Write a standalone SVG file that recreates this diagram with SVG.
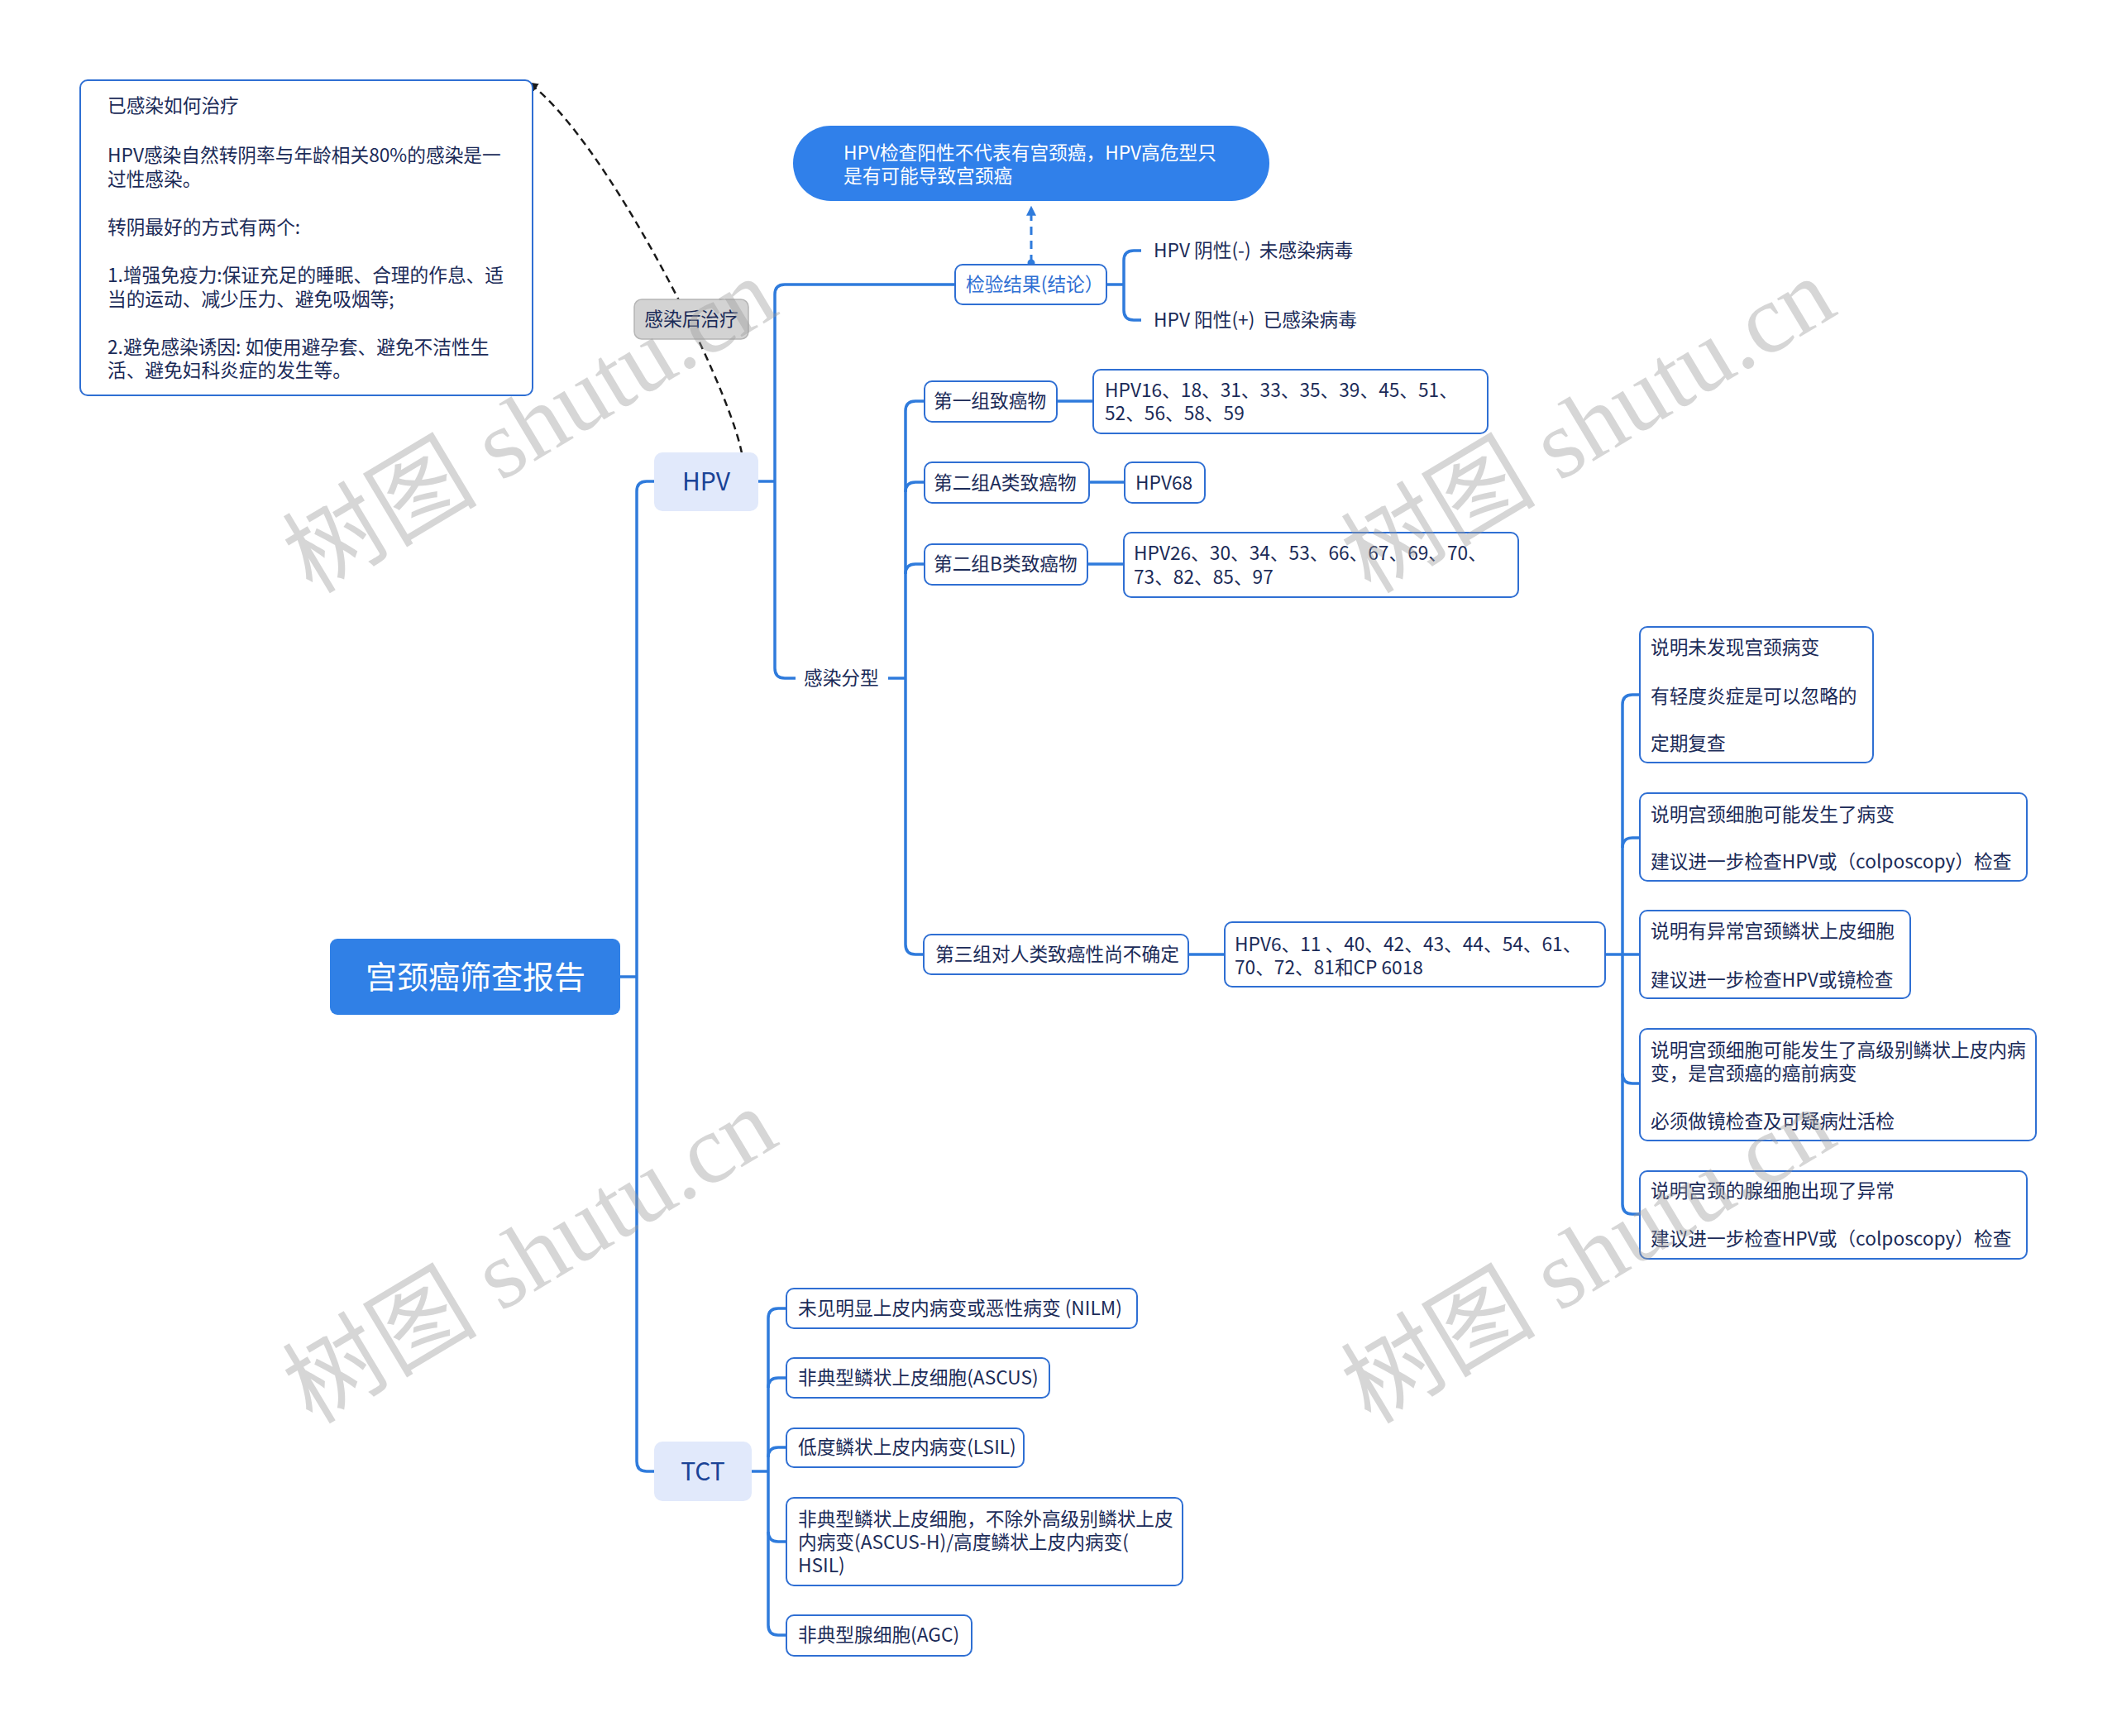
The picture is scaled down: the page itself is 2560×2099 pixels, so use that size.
<svg xmlns="http://www.w3.org/2000/svg" width="2560" height="2099" viewBox="0 0 2560 2099">
<style>
.t{font-family:"Noto Sans CJK SC","Noto Sans",sans-serif;font-size:22.7px;fill:#1b2b58}
.box{fill:#ffffff;stroke:#2f6fd3;stroke-width:2}
.c{fill:none;stroke:#2f7bdc;stroke-width:3.5}
.sub{fill:#e1e9fb}
.st{font-family:"Noto Sans CJK SC","Noto Sans",sans-serif;font-size:30px;fill:#1a4396;text-anchor:middle}
.wm{font-family:"Liberation Serif","Noto Sans CJK SC",serif;font-size:118px;fill:#9a9a9a;opacity:0.4;text-anchor:middle;dominant-baseline:central}
.pre{white-space:pre}
</style>
<defs>
<marker id="ab" viewBox="0 0 10 10" refX="9" refY="5" markerWidth="5" markerHeight="5" orient="auto"><path d="M0,0 L10,5 L0,10 z" fill="#1a1a1a"/></marker>
<marker id="au" viewBox="0 0 10 10" refX="9" refY="5" markerWidth="4" markerHeight="4" orient="auto"><path d="M0,0 L10,5 L0,10 z" fill="#2f7bdc"/></marker>
</defs>
<rect width="2560" height="2099" fill="#ffffff"/>

<g id="connectors">
<path class="c" d="M791 582 H782 Q770 582 770 594 V1767 Q770 1779 782 1779 H791"/>
<path class="c" d="M750 1181 H770"/>
<path class="c" d="M917 582 H937"/>
<path class="c" d="M1155 344 H949 Q937 344 937 356 V808 Q937 820 949 820 H962"/>
<path class="c" d="M1074 820 H1095"/>
<path class="c" d="M1118 485 H1107 Q1095 485 1095 497 V1142 Q1095 1154 1107 1154 H1117"/>
<path class="c" d="M1095 595 Q1095 583 1107 583 H1118"/>
<path class="c" d="M1095 694 Q1095 682 1107 682 H1118"/>
<path class="c" d="M1278 485 H1322"/>
<path class="c" d="M1317 583 H1360"/>
<path class="c" d="M1315 682 H1359"/>
<path class="c" d="M1437 1154 H1481"/>
<path class="c" d="M1338 344 H1359"/>
<path class="c" d="M1380 303 H1371 Q1359 303 1359 315 V375 Q1359 387 1371 387 H1380"/>
<path class="c" d="M1941 1154 H1983"/>
<path class="c" d="M1983 840 H1974 Q1962 840 1962 852 V1456 Q1962 1468 1974 1468 H1983"/>
<path class="c" d="M1962 1025 Q1962 1013 1974 1013 H1983"/>
<path class="c" d="M1962 1298 Q1962 1310 1974 1310 H1983"/>
<path class="c" d="M909 1779 H929"/>
<path class="c" d="M951 1582 H941 Q929 1582 929 1594 V1965 Q929 1977 941 1977 H951"/>
<path class="c" d="M929 1678 Q929 1666 941 1666 H951"/>
<path class="c" d="M929 1762 Q929 1750 941 1750 H951"/>
<path class="c" d="M929 1852 Q929 1864 941 1864 H951"/>
<line x1="1247" y1="318" x2="1247" y2="250" stroke="#2f7bdc" stroke-width="3" stroke-dasharray="10 7" marker-end="url(#au)"/>
<circle cx="1247" cy="318" r="4.5" fill="#2f7bdc"/>
<path d="M897 548 C880 460 730 165 639 100" fill="none" stroke="#1a1a1a" stroke-width="2.5" stroke-dasharray="9 6" marker-end="url(#ab)"/>
</g>

<g id="note">
<rect class="box" x="97" y="97" width="547" height="381" rx="9"/>
<text class="t" x="130" y="136">已感染如何治疗</text>
<text class="t" x="130" y="196">HPV感染自然转阴率与年龄相关80%的感染是一</text>
<text class="t" x="130" y="225">过性感染。</text>
<text class="t" x="130" y="283">转阴最好的方式有两个:</text>
<text class="t" x="130" y="341">1.增强免疫力:保证充足的睡眠、合理的作息、适</text>
<text class="t" x="130" y="370">当的运动、减少压力、避免吸烟等;</text>
<text class="t" x="130" y="428">2.避免感染诱因: 如使用避孕套、避免不洁性生</text>
<text class="t" x="130" y="456">活、避免妇科炎症的发生等。</text>
</g>

<g id="treat-label">
<rect x="767" y="362" width="138" height="48" rx="9" fill="#d3d3d3" stroke="#b5b5b5" stroke-width="1.5"/>
<text class="t" x="836" y="394" text-anchor="middle">感染后治疗</text>
</g>

<g id="pill">
<rect x="959" y="152" width="576" height="91" rx="45.5" fill="#3080ea"/>
<text class="t" x="1020" y="193" style="fill:#ffffff">HPV检查阳性不代表有宫颈癌，HPV高危型只</text>
<text class="t" x="1020" y="221" style="fill:#ffffff">是有可能导致宫颈癌</text>
</g>

<g id="root">
<rect x="399" y="1135" width="351" height="92" rx="9" fill="#3080e6"/>
<text x="575" y="1195" text-anchor="middle" style="font-family:'Noto Sans CJK SC','Noto Sans',sans-serif;font-size:38px;fill:#ffffff">宫颈癌筛查报告</text>
</g>

<g id="hpv">
<rect class="sub" x="791" y="547" width="126" height="71" rx="10"/>
<text class="st" x="854" y="593">HPV</text>
</g>

<g id="tct">
<rect class="sub" x="791" y="1743" width="118" height="72" rx="10"/>
<text class="st" x="850" y="1790">TCT</text>
</g>

<g id="result">
<rect class="box" x="1155" y="320" width="183" height="48" rx="9"/>
<text class="t" x="1168" y="352" style="fill:#2f6fd3">检验结果(结论）</text>
</g>
<g id="neg"><text class="t pre" x="1395" y="311">HPV 阴性(-)  未感染病毒</text></g>
<g id="pos"><text class="t pre" x="1395" y="395">HPV 阳性(+)  已感染病毒</text></g>

<g id="type"><text class="t" x="972" y="828">感染分型</text></g>

<g id="g1">
<rect class="box" x="1118" y="461" width="160" height="49" rx="9"/>
<text class="t" x="1129" y="493">第一组致癌物</text>
</g>
<g id="g1r">
<rect class="box" x="1322" y="447" width="477" height="77" rx="9"/>
<text class="t" x="1336" y="480">HPV16、18、31、33、35、39、45、51、</text>
<text class="t" x="1336" y="508">52、56、58、59</text>
</g>
<g id="g2a">
<rect class="box" x="1118" y="559" width="199" height="49" rx="9"/>
<text class="t" x="1129" y="592">第二组A类致癌物</text>
</g>
<g id="g2ar">
<rect class="box" x="1360" y="559" width="97" height="49" rx="9"/>
<text class="t" x="1373" y="592">HPV68</text>
</g>
<g id="g2b">
<rect class="box" x="1118" y="658" width="197" height="49" rx="9"/>
<text class="t" x="1129" y="690">第二组B类致癌物</text>
</g>
<g id="g2br">
<rect class="box" x="1359" y="644" width="477" height="78" rx="9"/>
<text class="t" x="1371" y="677">HPV26、30、34、53、66、67、69、70、</text>
<text class="t" x="1371" y="706">73、82、85、97</text>
</g>
<g id="g3">
<rect class="box" x="1117" y="1130" width="320" height="48" rx="9"/>
<text class="t" x="1131" y="1162">第三组对人类致癌性尚不确定</text>
</g>
<g id="g3r">
<rect class="box" x="1481" y="1115" width="460" height="78" rx="9"/>
<text class="t" x="1493" y="1150">HPV6、11 、40、42、43、44、54、61、</text>
<text class="t" x="1493" y="1178">70、72、81和CP 6018</text>
</g>

<g id="r1">
<rect class="box" x="1983" y="758" width="282" height="164" rx="9"/>
<text class="t" x="1996" y="791">说明未发现宫颈病变</text>
<text class="t" x="1996" y="850">有轻度炎症是可以忽略的</text>
<text class="t" x="1996" y="907">定期复查</text>
</g>
<g id="r2">
<rect class="box" x="1983" y="959" width="468" height="106" rx="9"/>
<text class="t" x="1996" y="993">说明宫颈细胞可能发生了病变</text>
<text class="t" x="1996" y="1050">建议进一步检查HPV或（colposcopy）检查</text>
</g>
<g id="r3">
<rect class="box" x="1983" y="1101" width="327" height="106" rx="9"/>
<text class="t" x="1996" y="1134">说明有异常宫颈鳞状上皮细胞</text>
<text class="t" x="1996" y="1193">建议进一步检查HPV或镜检查</text>
</g>
<g id="r4">
<rect class="box" x="1983" y="1244" width="479" height="135" rx="9"/>
<text class="t" x="1996" y="1278">说明宫颈细胞可能发生了高级别鳞状上皮内病</text>
<text class="t" x="1996" y="1306">变，是宫颈癌的癌前病变</text>
<text class="t" x="1996" y="1364">必须做镜检查及可疑病灶活检</text>
</g>
<g id="r5">
<rect class="box" x="1983" y="1416" width="468" height="106" rx="9"/>
<text class="t" x="1996" y="1448">说明宫颈的腺细胞出现了异常</text>
<text class="t" x="1996" y="1506">建议进一步检查HPV或（colposcopy）检查</text>
</g>

<g id="t1">
<rect class="box" x="951" y="1558" width="424" height="48" rx="9"/>
<text class="t" x="965" y="1590">未见明显上皮内病变或恶性病变 (NILM)</text>
</g>
<g id="t2">
<rect class="box" x="951" y="1642" width="318" height="48" rx="9"/>
<text class="t" x="965" y="1674">非典型鳞状上皮细胞(ASCUS)</text>
</g>
<g id="t3">
<rect class="box" x="951" y="1727" width="287" height="47" rx="9"/>
<text class="t" x="965" y="1758">低度鳞状上皮内病变(LSIL)</text>
</g>
<g id="t4">
<rect class="box" x="951" y="1811" width="479" height="106" rx="9"/>
<text class="t" x="965" y="1845">非典型鳞状上皮细胞，不除外高级别鳞状上皮</text>
<text class="t" x="965" y="1873">内病变(ASCUS-H)/高度鳞状上皮内病变(</text>
<text class="t" x="965" y="1901">HSIL)</text>
</g>
<g id="t5">
<rect class="box" x="951" y="1953" width="224" height="49" rx="9"/>
<text class="t" x="965" y="1985">非典型腺细胞(AGC)</text>
</g>

<g id="watermark">
<text class="wm" transform="translate(641,515) rotate(-31)">树图 shutu.cn</text>
<text class="wm" transform="translate(1921,515) rotate(-31)">树图 shutu.cn</text>
<text class="wm" transform="translate(641,1519) rotate(-31)">树图 shutu.cn</text>
<text class="wm" transform="translate(1921,1519) rotate(-31)">树图 shutu.cn</text>
</g>
</svg>
